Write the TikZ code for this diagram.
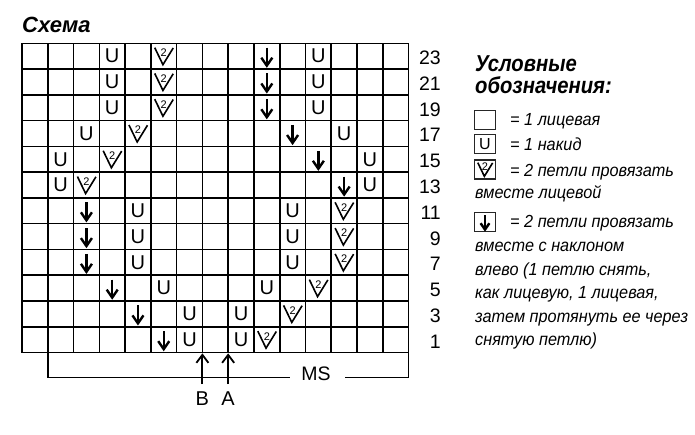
\documentclass[tikz,border=0pt]{standalone}
\usepackage{fontspec}
\setmainfont{Liberation Sans}
\newfontfamily\condfont[FakeStretch=0.88]{Liberation Sans}
\newfontfamily\legfont[FakeStretch=0.93]{Liberation Sans}
\usetikzlibrary{arrows.meta}
\begin{document}
\begin{tikzpicture}[x=1pt,y=-1pt,
  gridline/.style={line width=1.6pt,line cap=rect},
  symline/.style={line width=1.6pt,line join=miter},
  arrline/.style={line width=2.4pt,line join=miter},
  ustyle/.style={inner sep=0pt,font=\fontsize{20}{20}\selectfont},
  numstyle/.style={inner sep=0pt,font=\fontsize{19.5}{19.5}\selectfont,anchor=base east},
  legtext/.style={inner sep=0pt,anchor=base west,font=\legfont\itshape\fontsize{17.5}{17.5}\selectfont},
  legbox/.style={draw=black!85,line width=1.4pt,minimum width=21pt,minimum height=19pt,inner sep=0pt},
  vtwo/.pic={\draw[symline] (-9,-8.5) -- (-0.8,8.5) -- (9.5,-8.2);
    \node[inner sep=0pt,font=\fontsize{11}{11}\selectfont] (-two) at (0,-3.5) {2};},
  darrow/.pic={\draw[arrline] (0,-8.5) -- (0,9.5);
    \draw[arrline] (-5.5,1.5) -- (0,9.5) -- (5.5,1.5);},
  upar/.style={line width=1.8pt,-{Straight Barb[length=8pt,width=12pt,line width=1.8pt]}},
]
\useasboundingbox (0,0) rectangle (695,434);
\fill[white] (0,0) rectangle (695,434);
\def\gx{22}\def\gy{43.3}\def\cs{25.77}
% title
\node[inner sep=0pt,anchor=base west,font=\bfseries\itshape\fontsize{22}{22}\selectfont] (title) at (22,32.7) {Схема};
% grid
\foreach \i in {0,...,15} \draw[gridline] ({\gx+\i*\cs},\gy) -- ({\gx+\i*\cs},{\gy+12*\cs});
\foreach \j in {0,...,12} \draw[gridline] (\gx,{\gy+\j*\cs}) -- ({\gx+15*\cs},{\gy+\j*\cs});
% yarn overs
\foreach \r/\c in {1/4,1/12,2/4,2/12,3/4,3/12,4/3,4/13,5/2,5/14,6/2,6/14,
  7/5,7/11,8/5,8/11,9/5,9/11,10/6,10/10,11/7,11/9,12/7,12/9}
  \node[ustyle] (u\r-\c) at ({\gx+(\c-0.5)*\cs},{\gy+(\r-0.5)*\cs}) {U};
% k2tog
\foreach \r/\c in {1/6,2/6,3/6,4/5,5/4,6/3,7/13,8/13,9/13,10/12,11/11,12/10}
  \pic (v\r-\c) at ({\gx+(\c-0.5)*\cs},{\gy+(\r-0.5)*\cs}) {vtwo};
% ssk
\foreach \r/\c in {1/10,2/10,3/10,4/11,5/12,6/13,7/3,8/3,9/3,10/4,11/5,12/6}
  \pic (d\r-\c) at ({\gx+(\c-0.5)*\cs},{\gy+(\r-0.5)*\cs}) {darrow};
% row numbers
\foreach \r in {1,...,12}{
  \pgfmathtruncatemacro\n{25-2*\r}
  \node[numstyle] (n\r) at (441,{\gy+(\r-0.5)*\cs+8.5}) {\n};
}
% MS bracket
\coordinate (bl) at ({\gx+\cs},{\gy+12*\cs});
\coordinate (br) at ({\gx+15*\cs},{\gy+12*\cs});
\coordinate (msl) at (290,377.5);
\coordinate (msr) at (345,377.5);
\node[inner sep=0pt,anchor=base,font=\fontsize{19.5}{19.5}\selectfont] (ms) at (316,380.7) {MS};
\draw[line width=1.5pt] (bl) |- (msl);
\draw[line width=1.5pt] (msr) -| (br);
% B and A arrows
\coordinate (tB) at ({\gx+7*\cs},{\gy+12*\cs+0.8});
\coordinate (bB) at ({\gx+7*\cs},384);
\coordinate (tA) at ({\gx+8*\cs},{\gy+12*\cs+0.8});
\coordinate (bA) at ({\gx+8*\cs},384);
\draw[upar] (bB) -- (tB);
\draw[upar] (bA) -- (tA);
\node[inner sep=0pt,anchor=base,font=\fontsize{20}{20}\selectfont] (lB) at ({\gx+7*\cs},405) {B};
\node[inner sep=0pt,anchor=base,font=\fontsize{20}{20}\selectfont] (lA) at ({\gx+8*\cs},405) {A};
% legend
\node[inner sep=0pt,anchor=base west,font=\condfont\bfseries\itshape\fontsize{23}{23}\selectfont] (lh1) at (475,71.7) {Условные};
\node[inner sep=0pt,anchor=base west,font=\condfont\bfseries\itshape\fontsize{23}{23}\selectfont] (lh2) at (475,93.3) {обозначения:};
\node[legbox] (lb1) at (485,120) {};
\node[legbox] (lb2) at (485,144) {};
\node[ustyle,font=\fontsize{16}{16}\selectfont] (lbu) at (lb2) {U};
\node[legbox] (lb3) at (485,169.5) {};
\pic[scale=0.8] (lbv) at (lb3) {vtwo};
\node[legbox] (lb4) at (485,222) {};
\pic[scale=0.8] (lbd) at (lb4) {darrow};
\node[legtext] (t1) at (510,125.5) {= 1 лицевая};
\node[legtext] (t2) at (510,150) {= 1 накид};
\node[legtext] (t3) at (510,176) {= 2 петли провязать};
\node[legtext] (t3b) at (475,198.5) {вместе лицевой};
\node[legtext] (t4) at (510,227.5) {= 2 петли провязать};
\node[legtext] (t4b) at (475,251.5) {вместе с наклоном};
\node[legtext] (t4c) at (475,275) {влево (1 петлю снять,};
\node[legtext] (t4d) at (475,298.5) {как лицевую, 1 лицевая,};
\node[legtext] (t4e) at (475,322) {затем протянуть ее через};
\node[legtext] (t4f) at (475,345.5) {снятую петлю)};
\end{tikzpicture}
\end{document}
